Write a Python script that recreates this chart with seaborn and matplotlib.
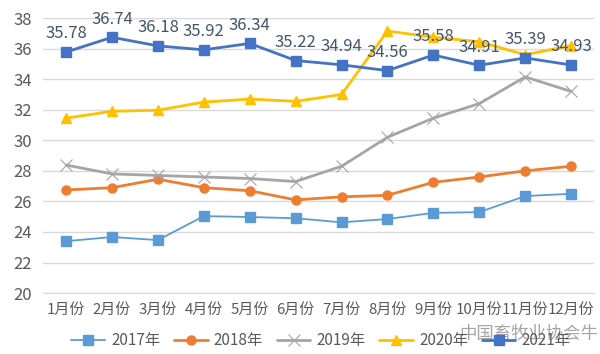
import matplotlib
matplotlib.use("Agg")
import matplotlib.pyplot as plt
import pandas as pd
import seaborn as sns

months = ["1月份", "2月份", "3月份", "4月份", "5月份", "6月份",
          "7月份", "8月份", "9月份", "10月份", "11月份", "12月份"]

y2017 = [23.40, 23.67, 23.47, 25.04, 24.98, 24.90, 24.63, 24.85, 25.25, 25.30, 26.35, 26.50]
y2018 = [26.75, 26.90, 27.45, 26.90, 26.70, 26.10, 26.30, 26.40, 27.25, 27.60, 28.00, 28.30]
y2019 = [28.38, 27.80, 27.70, 27.60, 27.50, 27.30, 28.30, 30.20, 31.45, 32.40, 34.15, 33.20]
y2020 = [31.45, 31.90, 31.97, 32.50, 32.70, 32.55, 33.00, 37.15, 36.75, 36.45, 35.60, 36.20]
y2021 = [35.78, 36.74, 36.18, 35.92, 36.34, 35.22, 34.94, 34.56, 35.58, 34.91, 35.39, 34.93]

series = [
    ("2017年", y2017, "#5B9BD5", "s", 1.3),
    ("2018年", y2018, "#ED7D31", "o", 2.0),
    ("2019年", y2019, "#A5A5A5", "x", 2.0),
    ("2020年", y2020, "#FFC000", "^", 2.0),
    ("2021年", y2021, "#4472C4", "s", 2.0),
]

sns.set_style("white")
plt.rcParams["font.family"] = ["Noto Sans CJK SC", "DejaVu Sans"]

fig = plt.figure(figsize=(6, 3.54), dpi=100)
ax = fig.add_axes([0.072, 0.172, 0.918, 0.777])

pos = list(range(len(months)))
for name, vals, color, marker, lw in series:
    df = pd.DataFrame({"x": pos, "y": vals})
    sns.lineplot(data=df, x="x", y="y", ax=ax, color=color, linewidth=lw,
                 marker=marker, markersize=6.5 if marker != "x" else 8,
                 markeredgecolor=color, markeredgewidth=1 if marker != "x" else 0.8,
                 markerfacecolor=color if marker != "x" else "none",
                 label=name)

for i, v in enumerate(y2021):
    ax.annotate(f"{v:.2f}", (i, v), xytext=(0, 7), textcoords="offset points",
                ha="center", va="bottom", fontsize=12, color="#44546A")

ax.set_ylim(20, 38)
ax.set_yticks(range(20, 39, 2))
ax.set_xlim(-0.5, 11.5)
ax.set_xticks(pos)
ax.set_xticklabels(months)
ax.set_xticks([p - 0.5 for p in range(13)], minor=True)
ax.tick_params(axis="x", which="major", length=0, pad=7, labelsize=10.8, colors="#595959")
ax.tick_params(axis="x", which="minor", length=5, color="#D9D9D9")
ax.tick_params(axis="y", length=0, labelsize=12, colors="#595959", pad=8)
ax.set_xlabel("")
ax.set_ylabel("")
ax.yaxis.grid(True, color="#D9D9D9", linewidth=1)
ax.set_axisbelow(True)
for s in ["left", "right", "top"]:
    ax.spines[s].set_visible(False)
ax.spines["bottom"].set_color("#D9D9D9")

ax.get_legend().remove()
handles, labels = ax.get_legend_handles_labels()
fig.legend(handles, labels, loc="lower center", bbox_to_anchor=(0.535, -0.025),
           ncol=5, frameon=False, fontsize=11, handlelength=2.2, handletextpad=0.4,
           columnspacing=0.9, labelcolor="#595959")

fig.text(0.997, 0.03, "中国畜牧业协会牛", ha="right", va="bottom",
         fontsize=12.5, color="#7F7F7F", alpha=0.7)

fig.savefig("out.png", dpi=100)
